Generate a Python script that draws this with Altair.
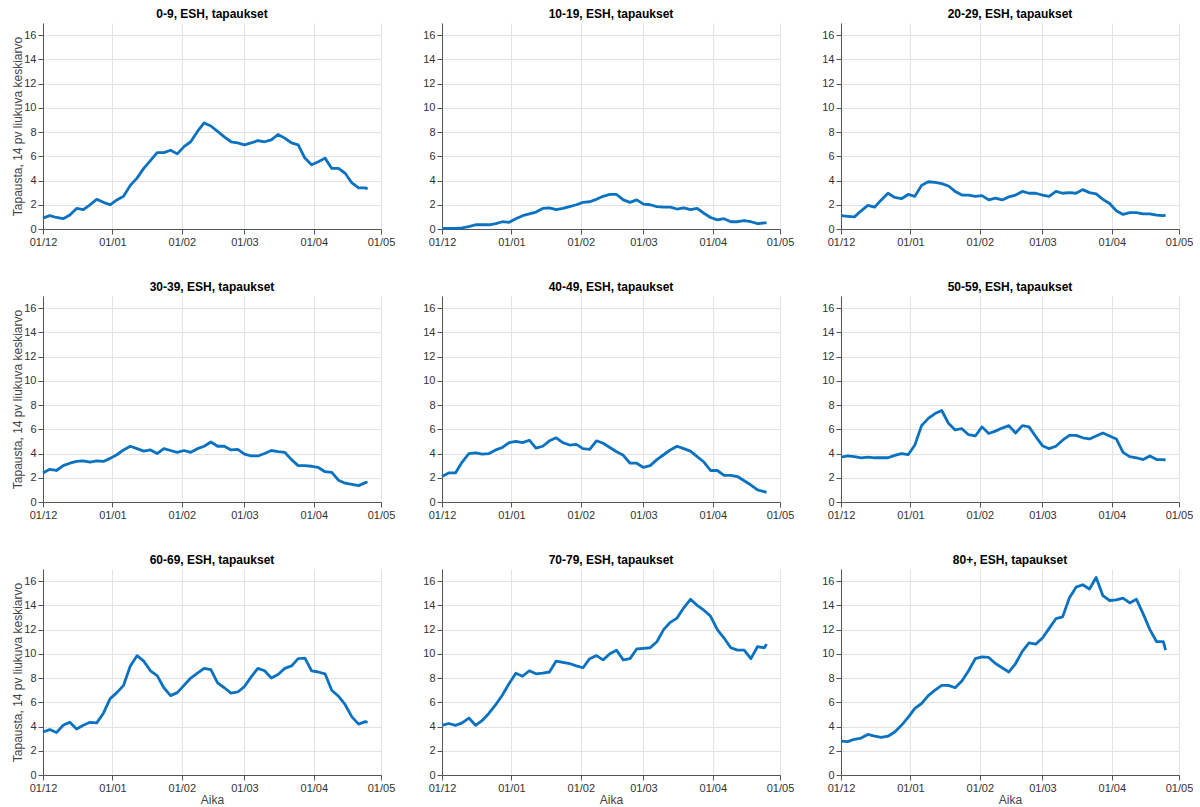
import altair as alt
import pandas as pd

# Sampling grid: days since 1 Dec 2020 (every third day, last reading on 25 Apr 2021)
DAYS = [0, 3, 6, 9, 12, 15, 18, 21, 24, 27, 30, 33, 36, 39, 42, 45, 48, 51, 54, 57,
        60, 63, 66, 69, 72, 75, 78, 81, 84, 87, 90, 93, 96, 99, 102, 105, 108, 111,
        114, 117, 120, 123, 126, 129, 132, 135, 138, 141, 144, 145]

# 14-day moving average of cases per age group
AGE_0_9 = [0.9, 1.1, 0.95, 0.85, 1.15, 1.7, 1.6, 2.0, 2.45, 2.2, 2.0, 2.4, 2.7, 3.6,
           4.2, 5.0, 5.65, 6.3, 6.3, 6.5, 6.2, 6.8, 7.2, 8.05, 8.75, 8.5, 8.05, 7.6,
           7.2, 7.1, 6.95, 7.1, 7.3, 7.2, 7.35, 7.8, 7.5, 7.1, 6.95, 5.85, 5.3, 5.55,
           5.85, 5.0, 5.0, 4.6, 3.8, 3.4, 3.4, 3.3]
AGE_10_19 = [0.05, 0.05, 0.05, 0.1, 0.2, 0.35, 0.35, 0.35, 0.45, 0.6, 0.55, 0.85,
             1.1, 1.25, 1.4, 1.7, 1.75, 1.6, 1.7, 1.85, 2.0, 2.2, 2.25, 2.45, 2.7,
             2.85, 2.85, 2.4, 2.2, 2.4, 2.05, 2.0, 1.85, 1.8, 1.8, 1.65, 1.75, 1.6,
             1.7, 1.3, 0.95, 0.75, 0.85, 0.6, 0.6, 0.7, 0.6, 0.45, 0.5, 0.5]
AGE_20_29 = [1.1, 1.05, 1.0, 1.5, 1.95, 1.8, 2.4, 2.95, 2.6, 2.5, 2.85, 2.7, 3.6,
             3.9, 3.85, 3.75, 3.55, 3.1, 2.8, 2.8, 2.7, 2.75, 2.4, 2.55, 2.4, 2.65,
             2.8, 3.1, 2.95, 2.95, 2.8, 2.7, 3.1, 2.95, 3.0, 2.95, 3.25, 3.0, 2.9,
             2.45, 2.1, 1.5, 1.2, 1.35, 1.35, 1.25, 1.25, 1.15, 1.1, 1.15]
AGE_30_39 = [2.4, 2.7, 2.6, 3.0, 3.2, 3.35, 3.4, 3.3, 3.4, 3.35, 3.6, 3.9, 4.3, 4.6,
             4.4, 4.2, 4.3, 4.0, 4.4, 4.25, 4.1, 4.25, 4.1, 4.4, 4.6, 4.95, 4.6, 4.6,
             4.3, 4.35, 3.95, 3.8, 3.8, 4.0, 4.25, 4.15, 4.1, 3.5, 3.0, 3.0, 2.95,
             2.85, 2.5, 2.45, 1.8, 1.55, 1.45, 1.35, 1.6, 1.65]
AGE_40_49 = [2.1, 2.4, 2.4, 3.3, 4.0, 4.05, 3.95, 4.0, 4.3, 4.5, 4.9, 5.0, 4.9, 5.1,
             4.45, 4.6, 5.05, 5.3, 4.9, 4.7, 4.75, 4.4, 4.35, 5.05, 4.85, 4.5, 4.15,
             3.85, 3.2, 3.2, 2.85, 3.0, 3.5, 3.9, 4.3, 4.6, 4.4, 4.2, 3.75, 3.3, 2.6,
             2.6, 2.2, 2.2, 2.1, 1.75, 1.4, 1.0, 0.85, 0.8]
AGE_50_59 = [3.7, 3.8, 3.75, 3.65, 3.7, 3.65, 3.65, 3.65, 3.85, 4.0, 3.9, 4.7, 6.3,
             6.9, 7.3, 7.55, 6.5, 5.95, 6.05, 5.55, 5.45, 6.2, 5.65, 5.85, 6.1, 6.3,
             5.7, 6.3, 6.2, 5.4, 4.65, 4.4, 4.6, 5.1, 5.5, 5.5, 5.3, 5.2, 5.45, 5.7,
             5.45, 5.2, 4.1, 3.75, 3.65, 3.5, 3.8, 3.5, 3.5, 3.45]
AGE_60_69 = [3.55, 3.75, 3.5, 4.1, 4.35, 3.8, 4.1, 4.35, 4.3, 5.1, 6.3, 6.8, 7.4,
             9.0, 9.85, 9.4, 8.6, 8.2, 7.2, 6.55, 6.8, 7.4, 8.0, 8.4, 8.8, 8.7, 7.6,
             7.2, 6.75, 6.85, 7.3, 8.1, 8.8, 8.6, 8.0, 8.3, 8.8, 9.0, 9.6, 9.65, 8.6,
             8.5, 8.35, 7.0, 6.5, 5.8, 4.8, 4.2, 4.4, 4.35]
AGE_70_79 = [4.1, 4.25, 4.1, 4.3, 4.7, 4.1, 4.5, 5.1, 5.8, 6.6, 7.55, 8.4, 8.15,
             8.6, 8.35, 8.4, 8.5, 9.4, 9.3, 9.2, 9.0, 8.85, 9.6, 9.85, 9.5, 10.0,
             10.3, 9.5, 9.6, 10.4, 10.45, 10.5, 11.0, 12.0, 12.6, 12.95, 13.8, 14.5,
             14.0, 13.6, 13.1, 12.0, 11.3, 10.5, 10.3, 10.3, 9.6, 10.6, 10.5, 10.8]
AGE_80 = [2.8, 2.75, 2.95, 3.05, 3.35, 3.2, 3.1, 3.2, 3.55, 4.1, 4.75, 5.5, 5.9,
          6.55, 7.0, 7.4, 7.4, 7.2, 7.75, 8.6, 9.6, 9.75, 9.7, 9.2, 8.85, 8.5, 9.2,
          10.2, 10.9, 10.8, 11.3, 12.1, 12.9, 13.05, 14.6, 15.5, 15.7, 15.35, 16.3,
          14.8, 14.4, 14.45, 14.6, 14.2, 14.5, 13.3, 12.0, 11.0, 11.0, 10.3]

GROUPS = ["0-9", "10-19", "20-29", "30-39", "40-49", "50-59", "60-69", "70-79", "80+"]
SERIES = [AGE_0_9, AGE_10_19, AGE_20_29, AGE_30_39, AGE_40_49, AGE_50_59,
          AGE_60_69, AGE_70_79, AGE_80]

START = pd.Timestamp("2020-12-01")
DATES = [(START + pd.Timedelta(days=d)).strftime("%Y-%m-%dT00:00:00Z") for d in DAYS]

LINE_COLOR = "#0a72c0"
FONT = "Liberation Sans"
PANEL_W = 338
PANEL_H = 206

month_ticks = [alt.DateTime(year=y, month=m, date=1, utc=True)
               for y, m in [(2020, 12), (2021, 1), (2021, 2), (2021, 3), (2021, 4), (2021, 5)]]


def panel(idx):
    group = GROUPS[idx]
    df = pd.DataFrame({"Aika": DATES, "arvo": SERIES[idx]})
    left_col = idx % 3 == 0
    bottom_row = idx >= 6

    x_axis = alt.Axis(
        values=month_ticks, format="%d/%m", title="Aika" if bottom_row else None,
        grid=True, labelFlush=False, titlePadding=1,
    )
    y_axis = alt.Axis(
        values=list(range(0, 17, 2)),
        title="Tapausta, 14 pv liukuva keskiarvo" if left_col else None,
        grid=True, titlePadding=-1,
    )
    return (
        alt.Chart(df, title=f"{group}, ESH, tapaukset")
        .mark_line(color=LINE_COLOR, strokeWidth=2.8, strokeJoin="round")
        .encode(
            x=alt.X("Aika:T", axis=x_axis,
                    scale=alt.Scale(type="utc",
                                    domain=[alt.DateTime(year=2020, month=12, date=1, utc=True),
                                            alt.DateTime(year=2021, month=5, date=1, utc=True)])),
            y=alt.Y("arvo:Q", axis=y_axis, scale=alt.Scale(domain=[0, 17], nice=False)),
        )
        .properties(width=PANEL_W, height=PANEL_H)
    )


chart = (
    alt.concat(*[panel(i) for i in range(9)], columns=3,
               spacing={"row": 67, "column": 61}, bounds="flush")
    .properties(padding={"left": 11, "top": 8, "right": 0, "bottom": 0})
    .configure_view(stroke=None)
    .configure_axis(
        labelFont=FONT, titleFont=FONT, labelFontSize=11, titleFontSize=12,
        labelColor="#333333", titleColor="#444444", titleFontWeight="normal",
        domainColor="#555555", tickColor="#555555", tickSize=5,
        gridColor="#e3e3e3", gridWidth=1, labelPadding=2,
    )
    .configure_title(font=FONT, fontSize=12, fontWeight="bold", color="#000000",
                     offset=2, anchor="middle")
)

chart.save("out.html", embed_options={"renderer": "svg", "actions": False})
